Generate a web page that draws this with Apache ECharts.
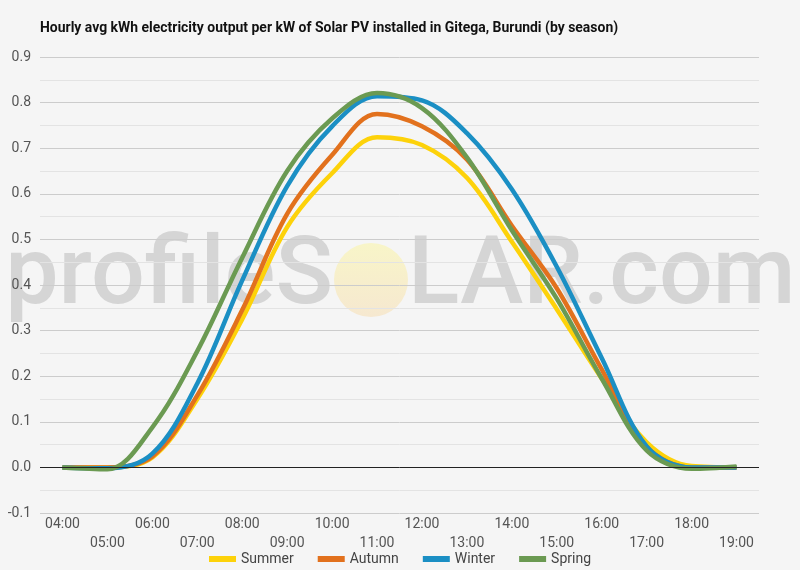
<!DOCTYPE html>
<html>
<head>
<meta charset="utf-8">
<script src="https://cdn.jsdelivr.net/npm/echarts@6/dist/echarts.min.js"></script>
<style>
  html, body { margin: 0; padding: 0; background: #f5f5f5; }
  #main { width: 800px; height: 570px; }
</style>
</head>
<body>
<div id="main"></div>
<script>
var hours = ['04:00', '05:00', '06:00', '07:00', '08:00', '09:00', '10:00', '11:00',
  '12:00', '13:00', '14:00', '15:00', '16:00', '17:00', '18:00', '19:00'];

var summer = [0, 0, 0.022, 0.15, 0.325, 0.527, 0.645, 0.724, 0.707, 0.635, 0.495, 0.347, 0.195, 0.055, 0.003, 0];
var autumn = [0, 0, 0.024, 0.158, 0.345, 0.556, 0.685, 0.775, 0.748, 0.675, 0.53, 0.393, 0.215, 0.045, 0, 0];
var winter = [0, -0.002, 0.03, 0.184, 0.41, 0.617, 0.748, 0.814, 0.805, 0.733, 0.61, 0.44, 0.24, 0.046, 0, 0];
var spring = [0, -0.004, 0.088, 0.255, 0.46, 0.65, 0.765, 0.821, 0.788, 0.68, 0.52, 0.37, 0.195, 0.037, -0.003, 0.002];

var seasons = ['Summer', 'Autumn', 'Winter', 'Spring'];
var colors = ['#fdd20a', '#e2711d', '#1b8fc4', '#6b9a52'];

var titleText = 'Hourly avg kWh electricity output per kW of Solar PV installed in Gitega, Burundi (by season)';

var myChart = echarts.init(document.getElementById('main'));

function line(name, data, i) {
  return {
    name: name,
    type: 'line',
    data: data,
    smooth: 0.35,
    symbol: 'none',
    z: 3,
    lineStyle: { width: 4.5, color: colors[i] },
    itemStyle: { color: colors[i] }
  };
}

var wmFill = 'rgba(160,160,160,0.38)';

var option = {
  backgroundColor: '#f5f5f5',
  animation: false,
  graphic: [
    // title, squeezed to look like the condensed face of the original
    {
      type: 'text',
      x: 40,
      y: 28,
      scaleX: 0.93,
      silent: true,
      style: {
        text: titleText,
        x: 0,
        y: 0,
        verticalAlign: 'middle',
        font: 'bold 15px Roboto',
        fill: '#111'
      }
    },
    // watermark
    {
      type: 'text',
      z: -10,
      silent: true,
      style: {
        text: 'profileS',
        x: 333,
        y: 279,
        align: 'right',
        verticalAlign: 'middle',
        font: '500 95px Roboto',
        fill: wmFill
      }
    },
    {
      type: 'circle',
      z: -10,
      silent: true,
      shape: { cx: 371, cy: 280, r: 37 },
      style: {
        fill: new echarts.graphic.LinearGradient(0, 0, 0, 1, [
          { offset: 0, color: '#f8f5c8' },
          { offset: 1, color: '#f6e8d0' }
        ])
      }
    },
    {
      type: 'text',
      z: -10,
      silent: true,
      style: {
        text: 'LAR.com',
        x: 408,
        y: 279,
        align: 'left',
        verticalAlign: 'middle',
        font: '500 95px Roboto',
        fill: wmFill
      }
    }
  ],
  legend: {
    data: seasons,
    bottom: -1,
    left: 'center',
    icon: 'rect',
    itemWidth: 27,
    itemHeight: 6,
    itemGap: 24,
    textStyle: { fontFamily: 'Roboto', fontSize: 14, color: '#444' }
  },
  grid: {
    left: 40,
    right: 41,
    top: 57,
    bottom: 57
  },
  xAxis: {
    type: 'category',
    data: hours,
    boundaryGap: true,
    axisLine: { show: false },
    axisTick: { show: false },
    axisLabel: {
      interval: 0,
      margin: 2,
      fontFamily: 'Roboto',
      fontSize: 14,
      lineHeight: 19,
      color: '#555',
      formatter: function (v, i) {
        return i % 2 === 1 ? '\n' + v : v;
      }
    }
  },
  yAxis: {
    type: 'value',
    min: -0.1,
    max: 0.9,
    interval: 0.1,
    axisLine: { show: false },
    axisTick: { show: false },
    axisLabel: {
      margin: 9,
      fontFamily: 'Roboto',
      fontSize: 14,
      color: '#555',
      formatter: function (v) { return v.toFixed(1); }
    },
    splitLine: { lineStyle: { color: '#cccccc', width: 1 } },
    minorTick: { show: false, splitNumber: 2 },
    minorSplitLine: { show: true, lineStyle: { color: '#e3e3e3', width: 1 } }
  },
  series: [
    line('Summer', summer, 0),
    line('Autumn', autumn, 1),
    line('Winter', winter, 2),
    line('Spring', spring, 3),
    {
      // zero line
      name: 'zero',
      type: 'line',
      data: [],
      z: 1,
      silent: true,
      markLine: {
        silent: true,
        symbol: 'none',
        label: { show: false },
        lineStyle: { color: '#222', width: 1, type: 'solid' },
        data: [{ yAxis: 0 }]
      }
    }
  ]
};

myChart.setOption(option);
</script>
</body>
</html>
